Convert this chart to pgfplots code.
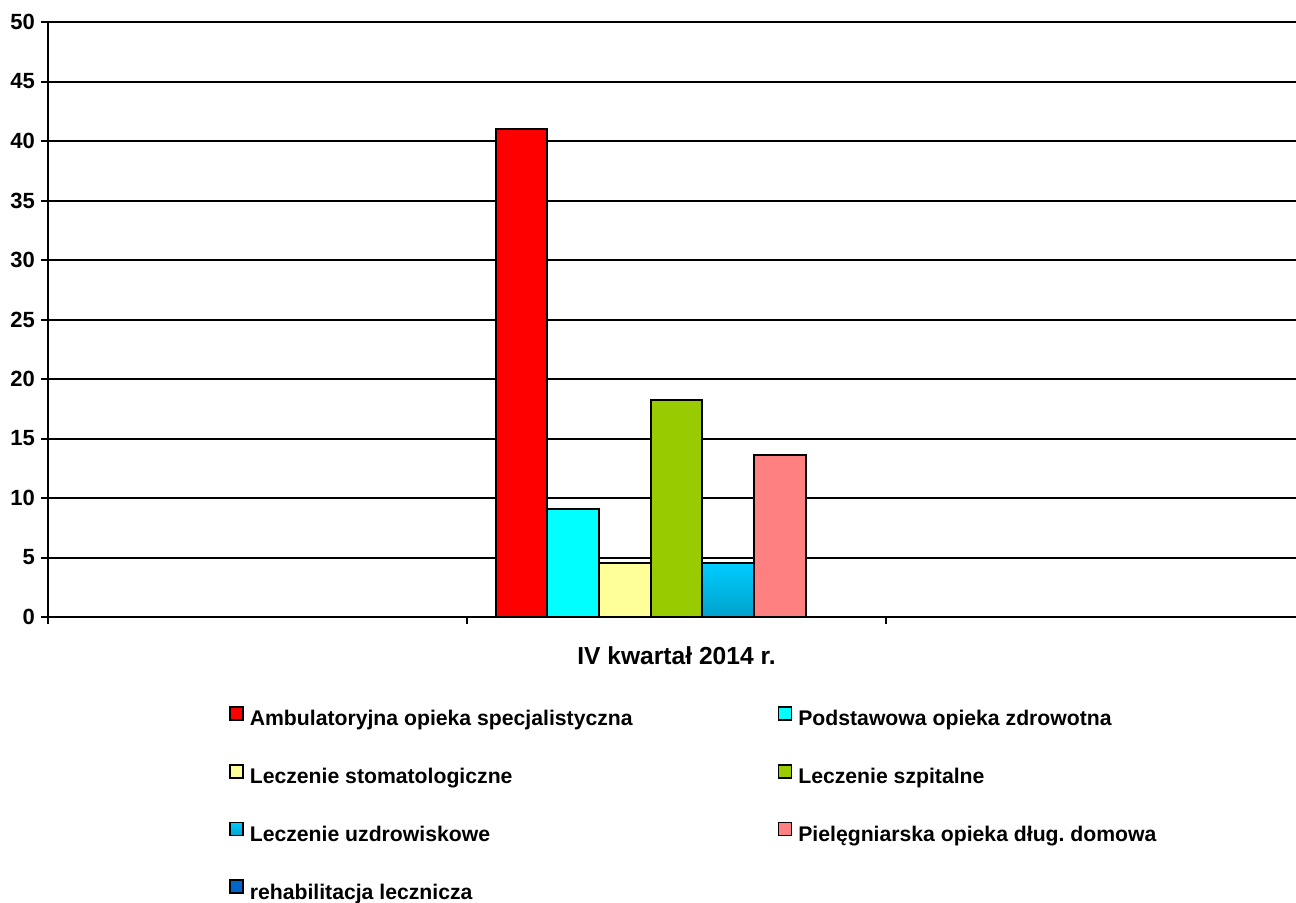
\documentclass[border=0pt]{standalone}
\usepackage{fontspec}
\setmainfont{Liberation Sans}
\usepackage{pgfplots}
\pgfplotsset{compat=1.18}

\definecolor{cAmb}{HTML}{FF0000}
\definecolor{cPod}{HTML}{00FFFF}
\definecolor{cSto}{HTML}{FFFF99}
\definecolor{cSzp}{HTML}{99CC00}
\definecolor{cUzdTop}{HTML}{00CCFF}
\definecolor{cUzdBot}{HTML}{00A2CC}
\definecolor{cPie}{HTML}{FF8080}
\definecolor{cReh}{HTML}{0066CC}

\begin{document}
\begin{tikzpicture}
\useasboundingbox (-24pt,-142.5pt) rectangle (624pt,308.5pt);
\begin{axis}[
    scale only axis,
    width=628.5pt, height=297.5pt,
    xmin=0, xmax=3,
    ymin=0, ymax=50,
    ytick={0,5,...,50},
    xtick={0,1,2},
    xticklabels={},
    axis x line*=bottom,
    axis y line*=left,
    axis line style={line width=1.2pt},
    tick align=outside,
    major tick length=3.5pt,
    every tick/.style={black, line width=1pt},
    ymajorgrids,
    major grid style={black, line width=1pt},
    ybar=0pt,
    bar width=0.1234,
    /pgf/number format/assume math mode=true,
    ticklabel style={font=\bfseries\fontsize{11}{13}\selectfont},
    yticklabel style={xshift=0.5pt},
    xlabel={IV kwartał 2014 r.},
    xlabel style={font=\bfseries\fontsize{12.3}{14}\selectfont,
        at={(axis description cs:0.5,0)}, anchor=center, yshift=-19.5pt},
    every axis plot/.append style={draw=black, line width=1pt},
    legend columns=2,
    legend cell align=left,
    legend image code/.code={%
        \draw[#1, line width=0.9pt] (0pt,0pt) rectangle (6.5pt,6.5pt);},
    legend style={
        at={(axis description cs:0.144,-0.1493)}, anchor=north west,
        draw=none, fill=none, inner sep=0pt, outer sep=0pt,
        font=\bfseries\fontsize{10.6}{12.5}\selectfont,
        nodes={inner sep=0pt},
        row sep=17.4pt,
        /tikz/column 1/.style={column sep=3pt},
        /tikz/column 2/.style={column sep=72.4pt},
        /tikz/column 3/.style={column sep=3pt},
    },
]
\addplot[fill=cAmb] coordinates {(1.5,41.0)};
\addlegendentry{Ambulatoryjna opieka specjalistyczna}
\addplot[fill=cPod] coordinates {(1.5,9.1)};
\addlegendentry{Podstawowa opieka zdrowotna}
\addplot[fill=cSto] coordinates {(1.5,4.5)};
\addlegendentry{Leczenie stomatologiczne}
\addplot[fill=cSzp] coordinates {(1.5,18.2)};
\addlegendentry{Leczenie szpitalne}
\addplot[top color=cUzdTop, bottom color=cUzdBot] coordinates {(1.5,4.5)};
\addlegendentry{Leczenie uzdrowiskowe}
\addplot[fill=cPie] coordinates {(1.5,13.6)};
\addlegendentry{Pielęgniarska opieka dług.\ domowa}
\addplot[fill=cReh] coordinates {(1.5,0)};
\addlegendentry{rehabilitacja lecznicza}
\end{axis}
\end{tikzpicture}
\end{document}
